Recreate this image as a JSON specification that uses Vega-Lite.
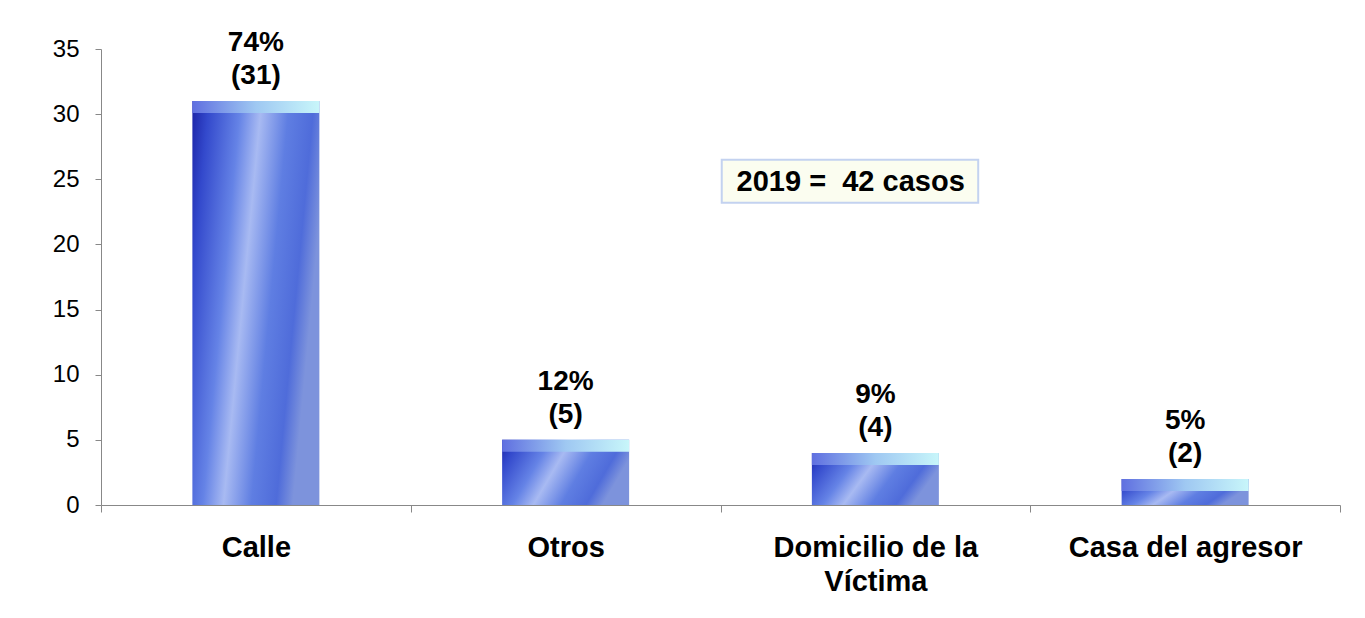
{
  "$schema": "https://vega.github.io/schema/vega-lite/v6.json",
  "width": 1239,
  "height": 456,
  "autosize": {"type": "none"},
  "padding": {"left": 101, "top": 49, "right": 25, "bottom": 113},
  "background": "white",
  "config": {"font": "Liberation Sans", "view": {"stroke": null}},
  "data": {
    "values": [
      {"lugar": "Calle", "casos": 31, "pct": "74%", "n": "(31)"},
      {"lugar": "Otros", "casos": 5, "pct": "12%", "n": "(5)"},
      {"lugar": "Domicilio de la Víctima", "casos": 4, "pct": "9%", "n": "(4)"},
      {"lugar": "Casa del agresor", "casos": 2, "pct": "5%", "n": "(2)"}
    ]
  },
  "resolve": {"scale": {"x": "independent"}, "axis": {"x": "independent"}},
  "layer": [
    {
      "layer": [
        {
          "mark": {
            "type": "bar",
            "width": {"band": 0.41},
            "fill": {
              "gradient": "linear",
              "x1": 0, "y1": 0, "x2": 1, "y2": 0.3,
              "stops": [
                {"offset": 0, "color": "#1c24a8"},
                {"offset": 0.12, "color": "#3349cc"},
                {"offset": 0.35, "color": "#6583e6"},
                {"offset": 0.5, "color": "#a8baf2"},
                {"offset": 0.7, "color": "#5f7ee2"},
                {"offset": 0.88, "color": "#4f6cda"},
                {"offset": 1, "color": "#7d93dc"}
              ]
            }
          },
          "encoding": {
            "x": {
              "field": "lugar", "type": "nominal", "sort": null,
              "scale": {"paddingInner": 0, "paddingOuter": 0},
              "axis": {
                "title": null,
                "labelAngle": 0,
                "labelFont": "Liberation Sans",
                "labelFontWeight": "bold",
                "labelFontSize": 29,
                "labelColor": "black",
                "labelPadding": 21,
                "labelLineHeight": 34,
                "labelLimit": 400,
                "labelExpr": "datum.label == 'Domicilio de la Víctima' ? ['Domicilio de la', 'Víctima'] : datum.label",
                "tickBand": "extent",
                "tickSize": 7,
                "tickColor": "#888888",
                "domainColor": "#888888",
                "grid": false
              }
            },
            "y": {
              "field": "casos", "type": "quantitative",
              "scale": {"domain": [0, 35], "nice": false},
              "axis": {
                "title": null,
                "values": [0, 5, 10, 15, 20, 25, 30, 35],
                "labelFont": "Liberation Sans",
                "labelFontSize": 24,
                "labelColor": "black",
                "labelPadding": 16,
                "tickSize": 6,
                "tickColor": "#888888",
                "domainColor": "#888888",
                "grid": false
              }
            }
          }
        },
        {
          "mark": {
            "type": "bar",
            "width": {"band": 0.41},
            "y2Offset": 12,
            "fill": {
              "gradient": "linear",
              "x1": 0, "y1": 0, "x2": 1, "y2": 0,
              "stops": [
                {"offset": 0, "color": "#5f6fe0"},
                {"offset": 0.5, "color": "#9fc8f2"},
                {"offset": 1, "color": "#c8f6fa"}
              ]
            }
          },
          "encoding": {
            "x": {"field": "lugar", "type": "nominal", "sort": null},
            "y": {"field": "casos", "type": "quantitative"},
            "y2": {"field": "casos"}
          }
        },
        {
          "mark": {"type": "text", "font": "Liberation Sans", "fontWeight": "bold", "fontSize": 28, "color": "black", "baseline": "alphabetic", "dy": -17},
          "encoding": {
            "x": {"field": "lugar", "type": "nominal", "sort": null},
            "y": {"field": "casos", "type": "quantitative"},
            "text": {"field": "n"}
          }
        },
        {
          "mark": {"type": "text", "font": "Liberation Sans", "fontWeight": "bold", "fontSize": 28, "color": "black", "baseline": "alphabetic", "dy": -50},
          "encoding": {
            "x": {"field": "lugar", "type": "nominal", "sort": null},
            "y": {"field": "casos", "type": "quantitative"},
            "text": {"field": "pct"}
          }
        }
      ]
    },
    {
      "data": {"values": [{"label": "2019 =\u00a0 42 casos"}]},
      "layer": [
        {
          "mark": {"type": "rect", "fill": "#fbfdf0", "stroke": "#c3d2f0", "strokeWidth": 2},
          "encoding": {
            "x": {"datum": 0.501, "type": "quantitative", "scale": {"domain": [0, 1], "nice": false}, "axis": null},
            "x2": {"datum": 0.708},
            "y": {"datum": 26.5, "type": "quantitative"},
            "y2": {"datum": 23.2}
          }
        },
        {
          "mark": {"type": "text", "font": "Liberation Sans", "fontWeight": "bold", "fontSize": 29, "color": "black", "align": "left", "baseline": "middle", "dy": 1},
          "encoding": {
            "x": {"datum": 0.513, "type": "quantitative"},
            "y": {"datum": 24.85, "type": "quantitative"},
            "text": {"field": "label"}
          }
        }
      ]
    }
  ]
}
